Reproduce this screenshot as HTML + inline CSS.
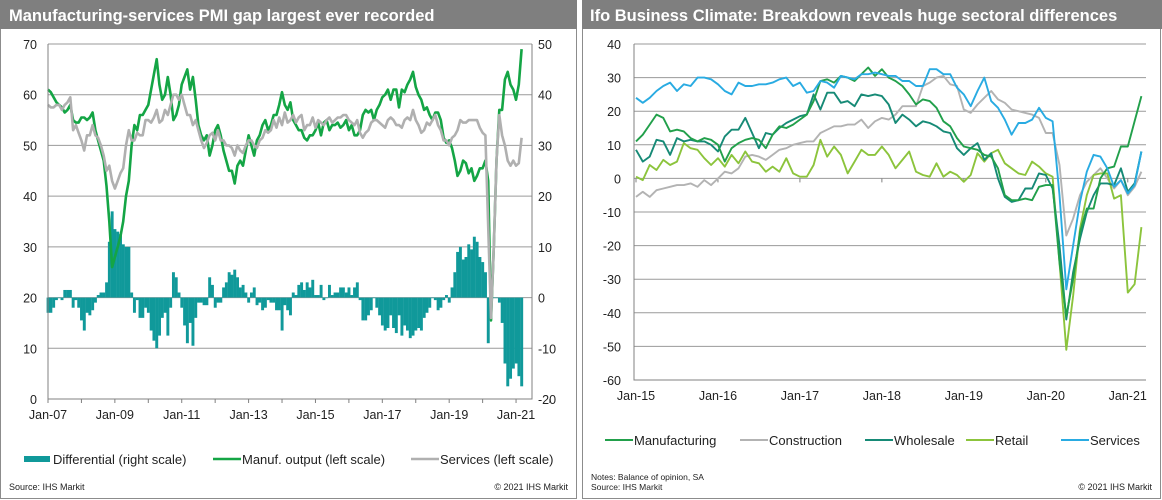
<!DOCTYPE html>
<html><head><meta charset="utf-8"><style>
html,body{margin:0;padding:0;background:#fff;}
svg{display:block;font-family:"Liberation Sans",Arial,sans-serif;}
</style></head><body>
<svg id="c" width="1162" height="500" viewBox="0 0 1162 500" xmlns="http://www.w3.org/2000/svg">
<rect x="0.5" y="0.5" width="576" height="498" fill="#fff" stroke="#8c8c8c"/>
<rect x="0" y="0" width="577" height="29" fill="#7f7f7f"/>
<text x="9" y="21" font-size="16.5" font-weight="bold" fill="#fff">Manufacturing-services PMI gap largest ever recorded</text>
<rect x="582.5" y="0.5" width="578" height="498" fill="#fff" stroke="#8c8c8c"/>
<rect x="582" y="0" width="580" height="29" fill="#7f7f7f"/>
<text x="590" y="21" font-size="16.5" font-weight="bold" fill="#fff">Ifo Business Climate: Breakdown reveals huge sectoral differences</text>
<g id="L"></g><g id="R"></g>
</svg>
<script>
// ---- Left chart data (monthly, Jan-07 .. Mar-21) ----
const manufOutput = [61,60.5,59.5,58.5,58,57.5,56.5,57,58,55,54.5,54.5,55.5,55.5,55,55.5,56.5,
53,51,49,47,42,35,26,28,30,32,35,40,43,
50,54,53,56,56,57,58,61,64,67,62,59,60,63.5,60,55,56,58,
62,63.5,65,61,63.5,59,54,52,51,52,48,50,
53,54,52,49,47,45,45,42.5,46,47,46,49,
52,50,48,51,52,54,55,53,54,56,56,58,
60.5,58,57,58.5,55,54,53,53,51.5,51,52,52,
53,54.5,52,54.5,55,53,54,54,54.5,53.5,54,55,
53,54,52,52,53,56,57,56.5,57,55,57,58,
59.5,60,61,59,61,61,57.5,61,60.5,62,63,64.5,
61.5,60,59,57,57.5,56,55,56.5,56.5,55,51.5,50.5,
51,49.5,47,44,45,47,46.5,44.5,45.5,43,44,45.5,
45.5,47,43,15.5,30,47,57,57,63,64.5,62,61,59,62,69];
const servicesPmi = [58,57.5,57.5,58,58,57,58,58.5,59.5,53,54,52.5,
51,49,52,52,54,52,51.5,50,48,45,46,43,
41.5,43,44.5,45.5,50,53,51,51,52.5,52,52,55,
55,54.5,55.5,57,54.5,55,57,56,58,60,60,59,
60,58,56,56,54,55,53,51,49.5,50.5,52,52.5,
51,53,51,51,50,50,49.5,48,50,49,48.5,50,
51,51,50,49.5,51,51.5,53,52.5,53,55,53.5,55.5,
54,56.5,54.5,55,56,54.5,55.5,56,53,54,54,55.5,
53.5,55,54.5,54,55,55.5,54.5,55,55.5,55.5,56,56,
55,54.5,54,55,52.5,51.5,52.5,53,54.5,55,55,54.5,
54,53.5,55,55.5,55,54,54,53.5,55,55.5,55,57,
55,54,52.5,53,54.5,54,55,56,54,53,51,51,
50,51.5,52,53,55,54.5,54.5,55,55,55,55,53.5,
52.5,52,34,16,30,47,56,52,50,47,46,47,46,46.5,51.5];
const leftTicks = [0,10,20,30,40,50,60,70];
const rightTicks = [-20,-10,0,10,20,30,40,50];
const leftXLabels = ["Jan-07","Jan-09","Jan-11","Jan-13","Jan-15","Jan-17","Jan-19","Jan-21"];

// ---- Right chart data (monthly, Jan-15 .. Mar-21) ----
const ifoManufacturing = [11,13,16,19,18,14,14.5,14,12,11,12,11.5,10,5,9,10.5,11.5,12,11.5,9,13,15.5,15,16,17.5,19,23,29,29.5,28.5,30.5,30,29,31,33,30.5,32.5,30,29,27.5,25,22,23.5,23,21,17,15.5,12,9.5,9,8.5,7,6.5,3,-5,-6.5,-6.5,-6,-6.5,-2.5,-2,-2,-25,-41,-30,-16,-9,-9,0,3,3.5,9.5,9.5,17,24.5];
const ifoConstruction = [-5.5,-4,-5.5,-3.5,-3,-2.5,-2,-2,-1.5,-2.5,-0.5,-2,0,2,1.5,3,6.5,7,6.5,5.5,7,8.5,9,10,10.5,11,11,13.5,14.5,15.5,15.5,16,16,17.5,15,17,18,17.5,19,21.5,21.5,21.5,27.5,28.5,30,30.5,28,27.5,20.5,19.5,22,24,26,23.5,22.5,20.5,20,19.5,19,18,13.5,13.5,4,-17,-12,-5,-1,1,3,0,-3,-0.5,-5,-2.5,2];
const ifoWholesale = [8.5,5,6.5,11.5,11,7,12,11,11.5,11,11,10,8,12.5,14.5,14.5,18,13.5,9,13.5,13,15,16.5,17.5,18.5,19,25,20.5,25.5,25.5,22.5,23,21.5,25,24.5,25,24.5,22,16.5,19,17.5,15.5,17,16.5,15.5,14,13.5,9,7,9,10.5,5.5,7.5,0,-5.5,-7,-6.5,-3,-3,1.5,1,-3,-20,-42,-28,-18,-10,-5,-1.5,-1.5,-2,3,-4,-1.5,8];
const ifoRetail = [0.5,-0.5,4,2.5,5.5,4,5,10.5,9,8.5,6,4,6,3.5,7,4.5,8,5,4.5,2,3.5,2,6,1.5,0.5,0.5,4,11.5,6.5,9.5,7,1.5,5,8.5,7,7,9.5,7,3,5.5,8,2,1,0.5,4.5,0.5,2,1,-1,1,7.5,5,7.5,8.5,4.5,3,1.5,1,5,3.5,1.5,0.5,-25,-51,-35,-15,-5,1,1.5,1.5,-6,-5,-34,-31.5,-14.5];
const ifoServices = [24,22.5,24,26,27.5,28.5,26,28,27.5,30,30,29.5,28,26,25,28.5,27.5,27.5,28,28,28.5,29.5,30,27.5,28.5,25.5,26,29,28.5,27,30.5,30,29.5,31,31,31.5,31,30.5,30.5,29,29,27.5,27.5,32.5,32.5,31,31,27,25,21.5,26,30,23,21,17.5,13,16.5,16.5,17.5,21,18,17,-5,-33,-20,-7,2,7,6.5,3,-2.5,-0.5,-4.5,-2,8];
const ifoTicks = [40,30,20,10,0,-10,-20,-30,-40,-50,-60];
const ifoXLabels = ["Jan-15","Jan-16","Jan-17","Jan-18","Jan-19","Jan-20","Jan-21"];

const NS="http://www.w3.org/2000/svg";
function mk(parent,tag,attrs,text){const e=document.createElementNS(NS,tag);for(const k in attrs)e.setAttribute(k,attrs[k]);if(text!==undefined)e.textContent=text;parent.appendChild(e);return e;}

// ---------- LEFT ----------
const L=document.getElementById('L');
const lx0=48,lx1=532,lyTop=44,lyBot=399,lStep=2.786;
const lxm=m=>lx0+m*lStep;
const lyL=v=>lyBot-(v/70)*(lyBot-lyTop);
const lyR=v=>lyBot-((v+20)/70)*(lyBot-lyTop);
leftTicks.forEach((t,i)=>{
  const y=lyL(t);
  const g=mk(L,'line',{x1:lx0,x2:lx1,y1:y,y2:y,stroke:t===0?'#808080':'#9a9a9a','stroke-width':1});
  
  
  const tl=mk(L,'text',{x:37,y:y+5,'font-size':12.5,'text-anchor':'end',fill:'#222'},String(t));
  
  
});
rightTicks.forEach(t=>{
  const y=lyR(t);
  const tl=mk(L,'text',{x:538,y:y+5,'font-size':12.5,fill:'#222'},String(t));
  
  
});
// bars (differential = services - manuf)
const zeroY=lyR(0);
manufOutput.forEach((mv,i)=>{
  const d=servicesPmi[i]-mv;
  const y=lyR(d);
  const b=mk(L,'rect',{x:lxm(i)-lStep/2,y:Math.min(y,zeroY),width:lStep+0.15,height:Math.max(0.6,Math.abs(zeroY-y)),fill:'#10999a'});
  
  
});
function linePath(arr,fx,fy){return arr.map((v,i)=>(i?'L':'M')+fx(i).toFixed(1)+' '+fy(v).toFixed(1)).join(' ');}
const pg=mk(L,'path',{d:linePath(manufOutput,lxm,lyL),fill:'none',stroke:'#14a545','stroke-width':2.6,'stroke-linejoin':'round'});


const ps=mk(L,'path',{d:linePath(servicesPmi,lxm,lyL),fill:'none',stroke:'#b0b0b0','stroke-width':2.6,'stroke-linejoin':'round'});


const la=mk(L,'path',{d:`M${lx0} ${lyTop}V${lyBot}H${lx1}V${lyTop}`,fill:'none',stroke:'#808080','stroke-width':1});


leftXLabels.forEach((s,i)=>{
  const x=lxm(i*24);
  const tk=mk(L,'line',{x1:x,x2:x,y1:lyBot,y2:lyBot+4,stroke:'#808080'});
  
  
  const tk2=mk(L,'line',{x1:lxm(i*24+12),x2:lxm(i*24+12),y1:lyBot,y2:lyBot+4,stroke:'#808080'});
  
  
  const t=mk(L,'text',{x:x,y:419,'font-size':12.5,'text-anchor':'middle',fill:'#222'},s);
  
  
});
// legend
[['rect','#10999a',24,'Differential (right scale)'],['line','#14a545',213,'Manuf. output (left scale)'],['line','#b0b0b0',411,'Services (left scale)']].forEach(([k,c,x,s])=>{
  let sw;
  if(k==='rect') sw=mk(L,'rect',{x:x,y:456,width:26,height:6,fill:c});
  else sw=mk(L,'line',{x1:x,x2:x+28,y1:459,y2:459,stroke:c,'stroke-width':2.6});
  
  
  const t=mk(L,'text',{x:x+29,y:464,'font-size':13,fill:'#222'},s);
  
  
});
const src1=mk(L,'text',{x:9,y:490,'font-size':9,fill:'#222'},'Source:  IHS Markit');


const cp1=mk(L,'text',{x:568,y:490,'font-size':9,fill:'#222','text-anchor':'end'},'© 2021  IHS Markit');



// ---------- RIGHT ----------
const R=document.getElementById('R');
const rx0=634,rx1=1146,ryTop=44,ryBot=380,rStart=636,rStep=6.83;
const rxm=m=>rStart+m*rStep;
const ry=v=>ryTop+(40-v)/100*(ryBot-ryTop);
ifoTicks.forEach(t=>{
  const y=ry(t);
  const g=mk(R,'line',{x1:rx0,x2:rx1,y1:y,y2:y,stroke:'#9a9a9a','stroke-width':1});
  
  
  const tl=mk(R,'text',{x:621,y:y+5,'font-size':12.5,'text-anchor':'end',fill:'#222'},String(t));
  
  
});
const ra=mk(R,'path',{d:`M${rx0} ${ryTop}V${ryBot}H${rx1}`,fill:'none',stroke:'#808080'});


ifoXLabels.forEach((s,i)=>{
  const x=rxm(i*12);
  const tk=mk(R,'line',{x1:x,x2:x,y1:ry(0),y2:ry(0)+4,stroke:'#808080'});
  
  
  const t=mk(R,'text',{x:x,y:400,'font-size':12.5,'text-anchor':'middle',fill:'#222'},s);
  
  
});
const ser=[[ifoConstruction,'#b3b3b3','construction-line'],[ifoRetail,'#8cc43c','retail-line'],[ifoWholesale,'#168a76','wholesale-line'],[ifoManufacturing,'#22a04b','manufacturing-line'],[ifoServices,'#29abe2','services-ifo-line']];
ser.forEach(([a,c,n])=>{
  const p=mk(R,'path',{d:linePath(a,rxm,ry),fill:'none',stroke:c,'stroke-width':1.9,'stroke-linejoin':'round'});
  
  
});
[['#22a04b',605,'Manufacturing'],['#b3b3b3',740,'Construction'],['#168a76',865,'Wholesale'],['#8cc43c',966,'Retail'],['#29abe2',1061,'Services']].forEach(([c,x,s])=>{
  const sw=mk(R,'line',{x1:x,x2:x+28,y1:440,y2:440,stroke:c,'stroke-width':2});
  
  
  const t=mk(R,'text',{x:x+29,y:445,'font-size':13,fill:'#222'},s);
  
  
});
const nt=mk(R,'text',{x:591,y:480,'font-size':8.5,fill:'#222'},'Notes: Balance of opinion, SA');


const src2=mk(R,'text',{x:591,y:490,'font-size':8.5,fill:'#222'},'Source:  IHS Markit');


const cp2=mk(R,'text',{x:1152,y:490,'font-size':9,fill:'#222','text-anchor':'end'},'© 2021  IHS Markit');


</script>
</body></html>
